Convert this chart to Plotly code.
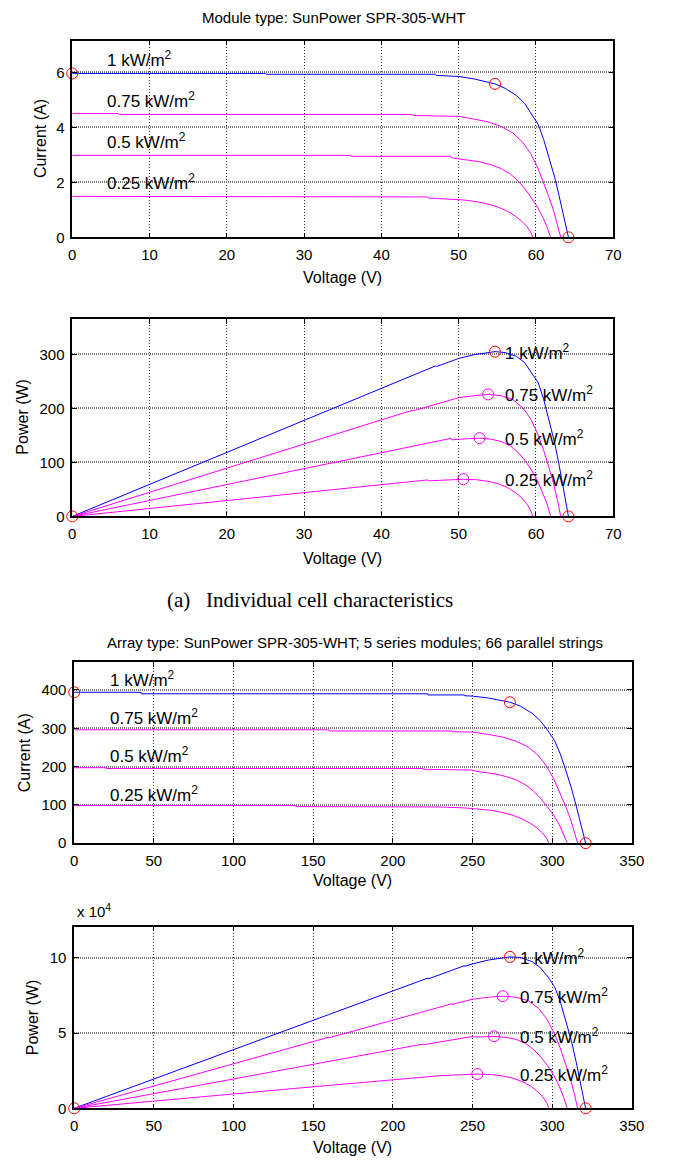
import plotly.graph_objects as go

W, H = 676, 1164

# ---------------- Module (single) I-V data ----------------
mod_v_1000 = [0, 25, 25.1, 47, 47.1, 50, 52, 54.7, 56, 57.5, 58.5, 59.5, 60.3, 61.0, 61.7, 62.4, 63.0, 63.6, 64.2]
mod_i_1000 = [5.96, 5.96, 5.93, 5.93, 5.89, 5.85, 5.76, 5.58, 5.42, 5.15, 4.88, 4.45, 4.10, 3.55, 2.90, 2.20, 1.50, 0.75, 0]

mod_v_750 = [0, 6, 6.1, 44, 44.1, 50, 52, 53.8, 55.5, 57, 58.3, 59.3, 60.2, 61.0, 61.7, 62.3, 62.8, 63.2]
mod_i_750 = [4.50, 4.50, 4.47, 4.47, 4.43, 4.40, 4.30, 4.20, 4.03, 3.80, 3.45, 3.05, 2.55, 2.00, 1.45, 0.95, 0.45, 0]

mod_v_500 = [0, 36, 36.1, 49, 49.1, 51, 52.7, 54.2, 55.5, 56.7, 57.7, 58.6, 59.4, 60.2, 60.9, 61.4, 61.9]
mod_i_500 = [2.98, 2.98, 2.95, 2.95, 2.89, 2.82, 2.75, 2.64, 2.50, 2.30, 2.05, 1.76, 1.45, 1.10, 0.72, 0.40, 0]

mod_v_250 = [0, 19, 19.1, 46, 46.1, 48.5, 50.6, 52.3, 53.8, 55.1, 56.3, 57.3, 58.1, 58.8, 59.3, 59.6]
mod_i_250 = [1.49, 1.49, 1.47, 1.47, 1.43, 1.40, 1.36, 1.30, 1.21, 1.10, 0.95, 0.78, 0.60, 0.40, 0.20, 0]

mod_isc, mod_voc = 5.96, 64.2
mod_mpp_v = [54.7, 53.8, 52.7, 50.6]
mod_mpp_i = 5.58
mod_mpp_p = [305, 226, 145, 69]

# ---------------- Array (5 series x 66 parallel) I-V data ----------------
arr_v_1000 = [0, 42, 42.1, 222, 222.1, 245, 245.1, 250, 260, 273.5, 280, 287.5, 292.5, 297.5, 301.5, 305, 308.5, 312, 315, 318, 321]
arr_i_1000 = [394, 394, 390, 390, 387, 387, 385, 384, 379, 368, 358, 339, 320, 293, 268, 234, 191, 145, 99, 50, 0]

arr_v_750 = [0, 160, 160.1, 237, 237.1, 250, 260, 269, 277.5, 285, 291.5, 296.5, 301, 305, 308.5, 311.5, 314, 316]
arr_i_750 = [296, 296, 293, 293, 291, 290, 284, 277, 266, 251, 228, 201, 168, 132, 96, 63, 30, 0]

arr_v_500 = [0, 20, 20.1, 219, 219.1, 249, 255, 263.5, 271, 277.5, 283.5, 288.5, 293, 297, 301, 304.5, 307, 309.5]
arr_i_500 = [197, 197, 195, 195, 193, 191, 186, 181.5, 174, 165, 152, 135, 116, 96, 73, 48, 26, 0]

arr_v_250 = [0, 139, 139.1, 230, 245, 253, 261.5, 269, 275.5, 281.5, 286.5, 290.5, 294, 296.5, 298]
arr_i_250 = [98.3, 98.3, 95.5, 94.5, 92, 90, 86, 80, 72.6, 62.7, 51.5, 39.6, 26.4, 13, 0]

arr_isc, arr_voc = 394, 321
arr_mpp_v = [273.5, 269, 263.5, 253]
arr_mpp_i = 368
arr_mpp_p = [100650, 74500, 47850, 22770]

labels = ["1 kW/m<sup>2</sup>", "0.75 kW/m<sup>2</sup>", "0.5 kW/m<sup>2</sup>", "0.25 kW/m<sup>2</sup>"]
mod_iv_label_y = [6.5, 5.0, 3.5, 2.0]
arr_iv_label_y = [429, 329, 229, 129]

BLUE = "#0000FF"
MAG = "#FF00FF"
RED = "#FF0000"
FONT = "Liberation Sans, Arial, sans-serif"

def power(v, i):
    return [a * b for a, b in zip(v, i)]

def px_x(x):
    return x / W

def px_y(y):
    return 1 - y / H

fig = go.Figure()

mod_sets = [(mod_v_1000, mod_i_1000), (mod_v_750, mod_i_750), (mod_v_500, mod_i_500), (mod_v_250, mod_i_250)]
arr_sets = [(arr_v_1000, arr_i_1000), (arr_v_750, arr_i_750), (arr_v_500, arr_i_500), (arr_v_250, arr_i_250)]

def add_curves(sets, xa, ya_iv, ya_pv):
    for k, (v, i) in enumerate(sets):
        col = BLUE if k == 0 else MAG
        fig.add_trace(go.Scatter(x=v, y=i, mode="lines", line=dict(color=col, width=1),
                                 xaxis=xa[0], yaxis=ya_iv, showlegend=False, hoverinfo="skip"))
        fig.add_trace(go.Scatter(x=v, y=power(v, i), mode="lines", line=dict(color=col, width=1),
                                 xaxis=xa[1], yaxis=ya_pv, showlegend=False, hoverinfo="skip"))

add_curves(mod_sets, ("x", "x2"), "y", "y2")
add_curves(arr_sets, ("x3", "x4"), "y3", "y4")

circ = dict(symbol="circle-open", size=11, line=dict(width=1))

def add_markers(isc, voc, mpp_v, mpp_i, mpp_p, xiv, yiv, xpv, ypv):
    fig.add_trace(go.Scatter(x=[0, mpp_v[0], voc], y=[isc, mpp_i, 0], mode="markers",
                             marker=dict(color=RED, **circ), xaxis=xiv, yaxis=yiv,
                             showlegend=False, cliponaxis=False, hoverinfo="skip"))
    fig.add_trace(go.Scatter(x=mpp_v[1:], y=mpp_p[1:], mode="markers",
                             marker=dict(color=MAG, **circ), xaxis=xpv, yaxis=ypv,
                             showlegend=False, cliponaxis=False, hoverinfo="skip"))
    fig.add_trace(go.Scatter(x=[0, mpp_v[0], voc], y=[0, mpp_p[0], 0], mode="markers",
                             marker=dict(color=RED, **circ), xaxis=xpv, yaxis=ypv,
                             showlegend=False, cliponaxis=False, hoverinfo="skip"))

add_markers(mod_isc, mod_voc, mod_mpp_v, mod_mpp_i, mod_mpp_p, "x", "y", "x2", "y2")
add_markers(arr_isc, arr_voc, arr_mpp_v, arr_mpp_i, arr_mpp_p, "x3", "y3", "x4", "y4")

def xaxis(dom, rng, dtick, anchor):
    return dict(domain=[px_x(dom[0]), px_x(dom[1])], range=rng, dtick=dtick, tick0=0,
                anchor=anchor, showline=True, linecolor="black", linewidth=1.5, mirror="ticks",
                ticks="inside", ticklen=5, tickcolor="black", showgrid=True, gridcolor="#333333",
                griddash="1px,2px", gridwidth=1, zeroline=False, ticklabelstandoff=3,
                tickfont=dict(family=FONT, size=15, color="black"))

def yaxis(dom, rng, anchor, dtick=None, tickvals=None, ticktext=None):
    d = dict(domain=[px_y(dom[1]), px_y(dom[0])], range=rng, anchor=anchor,
             showline=True, linecolor="black", linewidth=1.5, mirror="ticks",
             ticks="inside", ticklen=5, tickcolor="black", showgrid=True, gridcolor="#7a7a7a",
             griddash="1px,1px", gridwidth=1.5, zeroline=False, ticklabelstandoff=3,
             tickfont=dict(family=FONT, size=15, color="black"))
    if dtick is not None:
        d.update(dtick=dtick, tick0=0)
    if tickvals is not None:
        d.update(tickmode="array", tickvals=tickvals, ticktext=ticktext)
    return d

fig.update_layout(
    width=W, height=H, margin=dict(l=0, r=0, t=0, b=0),
    paper_bgcolor="white", plot_bgcolor="white",
    xaxis=xaxis((70, 625), [0, 70], 10, "y"),
    yaxis=yaxis((41, 239), [0, 7.15], "x", dtick=2),
    xaxis2=xaxis((70, 625), [0, 70], 10, "y2"),
    yaxis2=yaxis((321, 520), [0, 366], "x2", dtick=100),
    xaxis3=xaxis((72, 644), [0, 350], 50, "y3"),
    yaxis3=yaxis((667, 849), [0, 472], "x3", dtick=100),
    xaxis4=xaxis((72, 644), [0, 350], 50, "y4"),
    yaxis4=yaxis((933, 1116), [0, 120780], "x4", tickvals=[0, 50000, 100000], ticktext=["0", "5", "10"]),
)

ann = []
def text(x, y, s, size=16, xanchor="center", angle=0, family=FONT, xref="paper", yref="paper"):
    ann.append(dict(x=x, y=y, xref=xref, yref=yref, text=s, showarrow=False,
                    xanchor=xanchor, yanchor="middle", textangle=angle,
                    font=dict(family=family, size=size, color="black")))

# titles
text(px_x(338), px_y(18), "Module type: SunPower SPR-305-WHT", 15)
text(px_x(360), px_y(647), "Array type: SunPower SPR-305-WHT; 5 series modules; 66 parallel strings", 15)
# x labels
for yy in (279, 562):
    text(px_x(347), px_y(yy), "Voltage (V)", 16)
for yy in (887, 1155):
    text(px_x(358), px_y(yy), "Voltage (V)", 16)
# y labels
text(px_x(37), px_y(140), "Current (A)", 16, angle=-90)
text(px_x(19), px_y(420), "Power (W)", 16, angle=-90)
text(px_x(21), px_y(758), "Current (A)", 16, angle=-90)
text(px_x(30), px_y(1024), "Power (W)", 16, angle=-90)
# exponent label
text(px_x(73), px_y(917), "x 10<sup>4</sup>", 15, xanchor="left")
# caption
text(px_x(314), px_y(604), "(a)&nbsp;&nbsp;&nbsp;Individual cell characteristics", 21,
     family="Liberation Serif, Times New Roman, serif")

# curve labels
for k in range(4):
    text(4.2, mod_iv_label_y[k], labels[k], 17, xanchor="left", xref="x", yref="y")
    text(mod_mpp_v[0] + 1, mod_mpp_p[k], labels[k], 17, xanchor="left", xref="x2", yref="y2")
    text(21, arr_iv_label_y[k], labels[k], 17, xanchor="left", xref="x3", yref="y3")
    text(arr_mpp_v[0] + 5, arr_mpp_p[k], labels[k], 17, xanchor="left", xref="x4", yref="y4")

fig.update_layout(annotations=ann)
fig.write_html("out.html")
